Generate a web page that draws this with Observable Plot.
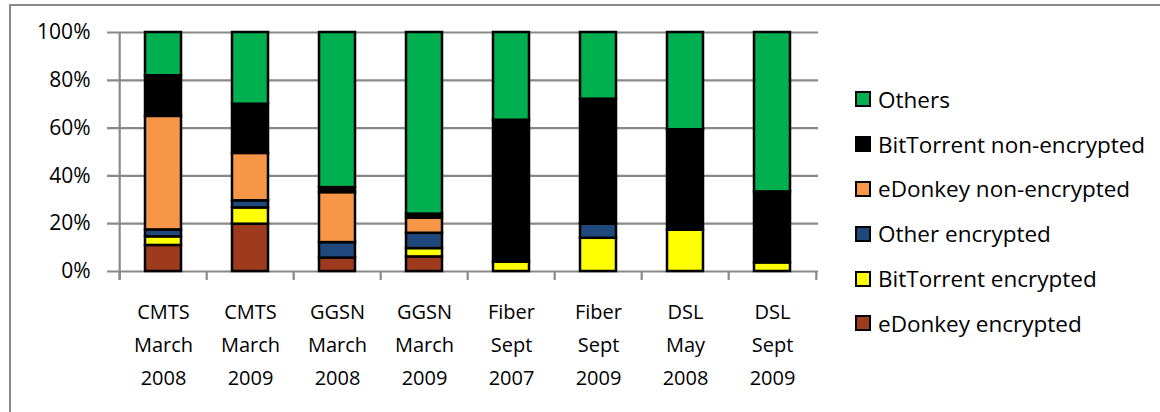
<!DOCTYPE html>
<html><head><meta charset="utf-8">
<script src="https://cdn.jsdelivr.net/npm/d3@7"></script>
<script src="https://cdn.jsdelivr.net/npm/@observablehq/plot@0.6"></script>
<style>
body{margin:0;background:#fff;}
#wrap{position:relative;width:1160px;height:412px;overflow:hidden;font-family:"Open Sans",sans-serif;background:#fff;}
#frame{position:absolute;left:9px;top:4px;width:1300px;height:600px;border-left:2px solid #888;border-top:2px solid #888;}
#chart{position:absolute;left:0;top:0;}
#legend{position:absolute;left:855px;top:77px;}
.item{display:flex;align-items:center;height:44.8px;font-size:22.5px;color:#000;white-space:nowrap;}
.sw{width:12px;height:12px;border:2px solid #000;margin-right:7px;flex:none;}
</style></head>
<body>
<div id="wrap"><div id="frame"></div><div id="chart"></div><div id="legend"></div></div>
<script>
const categories = ["CMTS\nMarch\n2008","CMTS\nMarch\n2009","GGSN\nMarch\n2008","GGSN\nMarch\n2009","Fiber\nSept\n2007","Fiber\nSept\n2009","DSL\nMay\n2008","DSL\nSept\n2009"];
const seriesNames = ["eDonkey encrypted","BitTorrent encrypted","Other encrypted","eDonkey non-encrypted","BitTorrent non-encrypted","Others"];
const seriesColors = ["#9e3b1e","#ffff00","#1f497d","#f79646","#000000","#00b050"];
const eDonkeyEncrypted       = [10.9, 19.8, 5.6, 6.1, 0, 0, 0, 0];
const bitTorrentEncrypted    = [3.6, 6.8, 0, 3.5, 3.9, 13.9, 17.3, 3.6];
const otherEncrypted         = [2.9, 3.0, 6.5, 6.4, 0, 5.9, 0, 0];
const eDonkeyNonEncrypted    = [47.5, 19.8, 20.9, 6.3, 0, 0, 0, 0];
const bitTorrentNonEncrypted = [17.0, 20.6, 2.1, 1.7, 59.4, 52.3, 42.0, 29.7];
const others                 = [18.1, 30.0, 64.9, 76.0, 36.7, 27.9, 40.7, 66.7];
const yTicks = [0, 20, 40, 60, 80, 100];
const legendOrder = ["Others","BitTorrent non-encrypted","eDonkey non-encrypted","Other encrypted","BitTorrent encrypted","eDonkey encrypted"];

const seriesValues = [eDonkeyEncrypted, bitTorrentEncrypted, otherEncrypted, eDonkeyNonEncrypted, bitTorrentNonEncrypted, others];
const rows = [];
seriesNames.forEach((s, j) => categories.forEach((c, i) => rows.push({category: c, series: s, value: seriesValues[j][i]})));

const W = 830, ML = 117, MR = 12;
const step = (W - ML - MR) / categories.length;
const grid = "#898989";

const plot = Plot.plot({
  width: W, height: 400,
  marginLeft: ML, marginRight: MR, marginTop: 32, marginBottom: 129,
  style: {fontFamily: "'Open Sans', sans-serif", background: "transparent", color: "#000", overflow: "visible"},
  x: {domain: categories, paddingInner: 0.59, paddingOuter: 0.295},
  y: {domain: [0, 100]},
  color: {domain: seriesNames, range: seriesColors},
  marks: [
    Plot.ruleY(yTicks, {y: d => d, stroke: grid, strokeWidth: 2.2, insetLeft: -10}),
    Plot.ruleX(categories, {x: d => d, dx: -step / 2, y1: 0, y2: 0, insetBottom: -9, stroke: grid, strokeWidth: 2.2}),
    Plot.ruleX([categories[0]], {x: d => d, dx: -step / 2, y1: 100, y2: 0, insetBottom: -9, stroke: grid, strokeWidth: 2.2}),
    Plot.ruleX([categories[categories.length - 1]], {x: d => d, dx: step / 2, y1: 0, y2: 0, insetBottom: -9, stroke: grid, strokeWidth: 2.2}),
    Plot.barY(rows, {x: "category", y: "value", fill: "series", stroke: "#000", strokeWidth: 2.5}),
    Plot.axisY({ticks: yTicks, tickSize: 0, tickPadding: 27, tickFormat: d => d + "%", fontSize: 21, label: null}),
    Plot.axisX({tickSize: 0, tickPadding: 24, fontSize: 20, lineHeight: 1.66, label: null})
  ]
});
document.getElementById("chart").appendChild(plot);

const legend = document.getElementById("legend");
legendOrder.forEach(name => {
  const item = document.createElement("div");
  item.className = "item";
  const sw = document.createElement("span");
  sw.className = "sw";
  sw.style.background = seriesColors[seriesNames.indexOf(name)];
  const t = document.createElement("span");
  t.textContent = name;
  item.appendChild(sw); item.appendChild(t);
  legend.appendChild(item);
});
</script>
</body></html>
